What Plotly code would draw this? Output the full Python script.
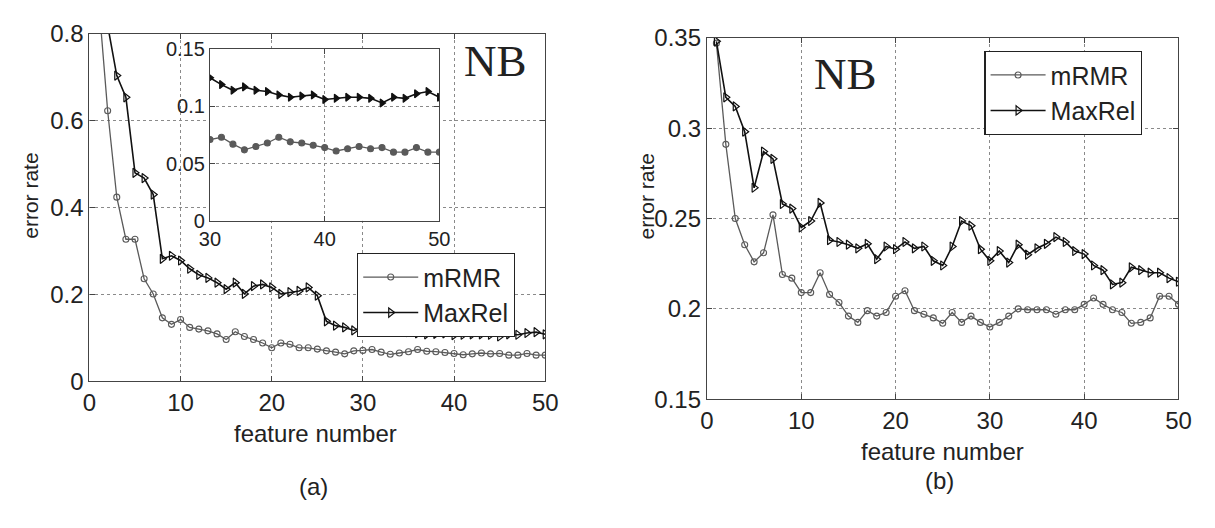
import plotly.graph_objects as go

# ---------------- data ----------------
features = list(range(1, 51))

# (a) NB, main panel
a_mrmr = [0.88, 0.623, 0.424, 0.327, 0.327, 0.236, 0.201, 0.146, 0.131, 0.142,
          0.124, 0.120, 0.116, 0.109, 0.096, 0.114, 0.103, 0.096, 0.088, 0.077,
          0.088, 0.085, 0.077, 0.077, 0.074, 0.070, 0.067, 0.063, 0.070, 0.071,
          0.073, 0.067, 0.062, 0.065, 0.068, 0.073, 0.069, 0.068, 0.066, 0.064,
          0.061, 0.063, 0.065, 0.063, 0.064, 0.060, 0.060, 0.064, 0.060, 0.060]
a_maxrel = [0.98, 0.82, 0.704, 0.654, 0.480, 0.468, 0.430, 0.282, 0.289, 0.278,
            0.259, 0.245, 0.238, 0.227, 0.212, 0.227, 0.201, 0.219, 0.223, 0.216,
            0.201, 0.205, 0.208, 0.216, 0.197, 0.138, 0.128, 0.124, 0.117, 0.125,
            0.119, 0.114, 0.117, 0.114, 0.113, 0.110, 0.108, 0.109, 0.110, 0.106,
            0.107, 0.108, 0.108, 0.107, 0.103, 0.108, 0.107, 0.111, 0.113, 0.108]

# (b) NB
b_mrmr = [0.347, 0.291, 0.250, 0.2355, 0.226, 0.231, 0.252, 0.219, 0.217, 0.209,
          0.209, 0.220, 0.208, 0.2035, 0.196, 0.1925, 0.199, 0.196, 0.198, 0.207,
          0.210, 0.199, 0.197, 0.195, 0.192, 0.198, 0.1925, 0.196, 0.1925, 0.190,
          0.1925, 0.196, 0.200, 0.1995, 0.1995, 0.1995, 0.197, 0.1995, 0.1995, 0.2025,
          0.206, 0.2025, 0.1995, 0.198, 0.192, 0.1925, 0.195, 0.207, 0.207, 0.2025]
b_maxrel = [0.348, 0.317, 0.312, 0.298, 0.267, 0.287, 0.283, 0.258, 0.2555, 0.245,
            0.2486, 0.2586, 0.238, 0.237, 0.2355, 0.2335, 0.236, 0.2275, 0.2345, 0.233,
            0.237, 0.2335, 0.2345, 0.2266, 0.224, 0.2345, 0.2486, 0.246, 0.233, 0.2266,
            0.232, 0.2256, 0.2355, 0.230, 0.2335, 0.236, 0.2397, 0.237, 0.232, 0.2303,
            0.224, 0.2214, 0.2135, 0.2145, 0.223, 0.2214, 0.220, 0.220, 0.217, 0.215]

inset_start = 29  # index of feature 30
main_xticks = [0, 10, 20, 30, 40, 50]
a_yticks = [0, 0.2, 0.4, 0.6, 0.8]
a_yticklabels = ["0", "0.2", "0.4", "0.6", "0.8"]
b_yticks = [0.15, 0.2, 0.25, 0.3, 0.35]
b_yticklabels = ["0.15", "0.2", "0.25", "0.3", "0.35"]
inset_xticks = [30, 40, 50]
inset_yticks = [0, 0.05, 0.1, 0.15]
inset_yticklabels = ["0", "0.05", "0.1", "0.15"]

# ---------------- styles ----------------
W, H = 1215, 528
FONT = "Liberation Sans, Arial, sans-serif"
GREY = "#5a5a5a"
BLACK = "#111111"

fig = go.Figure()

def add_pair(xs, m, r, xa, ya, legend=None, show=False, filled=False, msize=(6, 8)):
    fig.add_trace(go.Scatter(
        x=xs, y=m, mode="lines+markers", name="mRMR",
        xaxis=xa, yaxis=ya, showlegend=show, legend=legend,
        line=dict(color=GREY, width=1.3),
        marker=dict(symbol="circle" if filled else "circle-open", size=msize[0],
                    color=GREY, line=dict(color=GREY, width=1.1)),
    ))
    fig.add_trace(go.Scatter(
        x=xs, y=r, mode="lines+markers", name="MaxRel",
        xaxis=xa, yaxis=ya, showlegend=show, legend=legend,
        line=dict(color=BLACK, width=1.6),
        marker=dict(symbol="triangle-right" if filled else "triangle-right-open",
                    size=msize[1], color=BLACK, line=dict(color=BLACK, width=1.2)),
    ))

add_pair(features, a_mrmr, a_maxrel, "x", "y", legend="legend", show=True)
add_pair(features[inset_start:], a_mrmr[inset_start:], a_maxrel[inset_start:],
         "x2", "y2", filled=True, msize=(6, 7))
add_pair(features, b_mrmr, b_maxrel, "x3", "y3", legend="legend2", show=True)

def px_x(p):
    return p / W

def px_y(p):
    return 1 - p / H

axis_common = dict(
    showline=True, linecolor="#444", linewidth=1.2, mirror="ticks",
    ticks="inside", ticklen=5, tickcolor="#444",
    showgrid=True, gridcolor="#8a8a8a", griddash="dot", gridwidth=1,
    zeroline=False, tickfont=dict(family=FONT, size=24, color="#222"),
)
inset_font = dict(family=FONT, size=20, color="#222")

legend_common = dict(
    xanchor="left", yanchor="top", bgcolor="white", bordercolor="#222",
    borderwidth=1.2, font=dict(family=FONT, size=25, color="#222"),
    tracegroupgap=0, itemwidth=55,
)

fig.update_layout(
    width=W, height=H,
    margin=dict(l=0, r=0, t=0, b=0),
    paper_bgcolor="white", plot_bgcolor="white",
    font=dict(family=FONT, color="#222"),
    xaxis=dict(domain=[px_x(80), px_x(545)], range=[0, 50], tickvals=main_xticks,
               anchor="y", **axis_common),
    yaxis=dict(domain=[px_y(387), px_y(21)], range=[0, 0.8], tickvals=a_yticks,
               ticktext=a_yticklabels, anchor="x", **axis_common),
    xaxis2=dict(domain=[px_x(203), px_x(437)], range=[30, 50], tickvals=inset_xticks,
                anchor="y2", **{**axis_common, "tickfont": inset_font}),
    yaxis2=dict(domain=[px_y(218), px_y(37)], range=[0, 0.15], tickvals=inset_yticks,
                ticktext=inset_yticklabels, anchor="x2",
                **{**axis_common, "tickfont": inset_font}),
    xaxis3=dict(domain=[px_x(710), px_x(1191)], range=[0, 50], tickvals=main_xticks,
                anchor="y3", **axis_common),
    yaxis3=dict(domain=[px_y(406), px_y(25)], range=[0.15, 0.35], tickvals=b_yticks,
                ticktext=b_yticklabels, anchor="x3", **axis_common),
    legend=dict(x=px_x(353), y=px_y(252), **legend_common),
    legend2=dict(x=px_x(993), y=px_y(39), **legend_common),
    showlegend=True,
)

ann = []
def label(text, x, y, size=24, angle=0, family=FONT):
    ann.append(dict(text=text, x=px_x(x), y=px_y(y), xref="paper", yref="paper",
                    showarrow=False, textangle=angle, xanchor="center", yanchor="middle",
                    font=dict(family=family, size=size, color="#222")))

label("NB", 494, 50, size=45, family="Liberation Serif, Times New Roman, serif")
label("NB", 851, 63, size=45, family="Liberation Serif, Times New Roman, serif")
label("feature number", 311, 442)
label("feature number", 950, 461)
label("error rate", 20, 192, size=21, angle=-90)
label("error rate", 648, 192, size=21, angle=-90)
label("(a)", 309, 498)
label("(b)", 947, 492)
fig.update_layout(annotations=ann)

fig.write_html("out.html")
